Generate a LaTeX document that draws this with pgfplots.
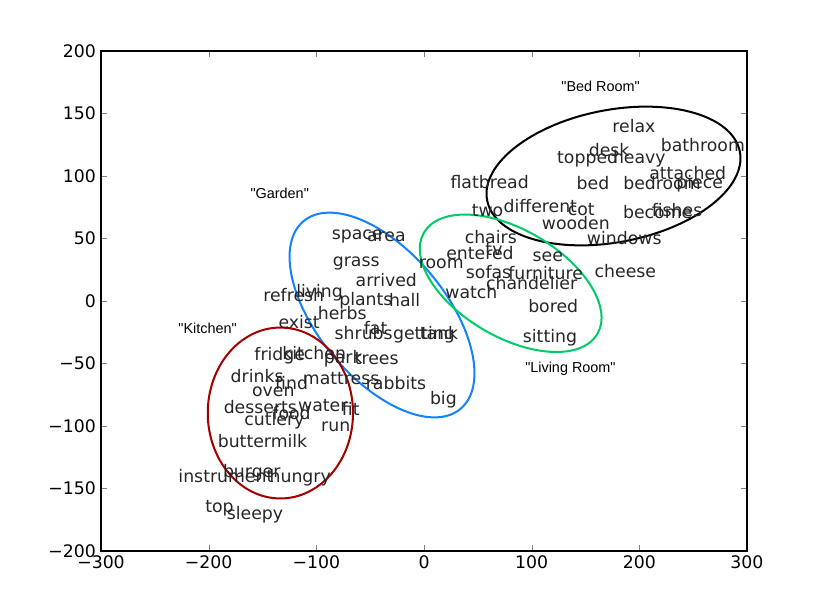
\documentclass[border=0pt]{standalone}
\usepackage{pgfplots}
\pgfplotsset{compat=1.18}
\usepackage{fontspec}
\setmainfont{DejaVu Sans}
\newfontfamily\grpfont{Liberation Sans}
\definecolor{ellblue}{RGB}{20,130,255}
\definecolor{ellgreen}{RGB}{0,204,102}
\definecolor{ellred}{RGB}{165,0,0}
\begin{document}
\begin{tikzpicture}
\begin{axis}[
    scale only axis,
    width=448.3pt, height=347pt,
    xmin=-300, xmax=300, ymin=-200, ymax=200,
    xtick={-300,-200,-100,0,100,200,300},
    xticklabels={−300,−200,−100,0,100,200,300},
    ytick={-200,-150,-100,-50,0,50,100,150,200},
    yticklabels={−200,−150,−100,−50,0,50,100,150,200},
    ticklabel style={font=\fontsize{12}{14}\selectfont},
    tick align=inside,
    major tick length=4pt,
    axis line style={line width=0.8pt},
    clip=false,
]
% words
\addplot[only marks, mark=none, point meta=explicit symbolic,
    nodes near coords={\pgfplotspointmeta},
    every node near coord/.append style={anchor=center, inner sep=0pt,
        font=\fontsize{12}{14}\selectfont, text=black!85}]
table[meta=label] {
x y label
195 140 relax
259 125 bathroom
172 121 desk
152 114 topped
200 114 heavy
245 102 attached
157 94 bed
221 94 bedroom
256 94 piece
61 95 flatbread
59 72 two
108 76 different
146 73 cot
141 62 wooden
217 71 become
235 73 fishes
186 50 windows
62 51 chairs
52 38 entered
65 41 tv
16 30 room
115 35 see
60 23 sofas
113 22 furniture
187 24 cheese
100 14 chandelier
44 7 watch
120 -4 bored
117 -29 sitting
-62 52 space
-35 51 area
-63 30 grass
-35 17 arrived
-121 5 refresh
-97 7 living
-54 0 plants
-18 1 hall
-76 -10 herbs
-116 -17 exist
-45 -22 fat
-56 -26 shrubs
0 -27 getting
14 -26 tank
-134 -44 fridge
-102 -42 kitchen
-75 -46 park
-44 -46 trees
-155 -60 drinks
-123 -66 find
-77 -62 mattress
-26 -66 rabbits
-140 -73 oven
-152 -85 desserts
-94 -84 water
-68 -86 fit
-123 -90 food
-139 -96 cutlery
-82 -101 run
18 -79 big
-150 -112 buttermilk
-160 -137 burger
-184 -140 instrument
-115 -141 hungry
-190 -166 top
-157 -171 sleepy
};
% group names
\addplot[only marks, mark=none, point meta=explicit symbolic,
    nodes near coords={\pgfplotspointmeta},
    every node near coord/.append style={anchor=center, inner sep=0pt,
        font=\grpfont\fontsize{10}{12}\selectfont, text=black}]
coordinates {
    (164,172) [{"Bed Room"}]
    (-134,86) [{"Garden"}]
    (-201,-22) [{"Kitchen"}]
    (136,-54) [{"Living Room"}]
};
% cluster ellipses
\draw[black, line width=1.4pt, rotate around={10.9:(axis cs:176,100)}]
    (axis cs:176,100) ellipse [x radius=89.3pt, y radius=45.9pt];
\draw[ellblue, line width=1.4pt, rotate around={-50.1:(axis cs:-39,-11.2)}]
    (axis cs:-39,-11.2) ellipse [x radius=84.9pt, y radius=44.2pt];
\draw[ellgreen, line width=1.4pt, rotate around={-30.3:(axis cs:80.5,14.2)}]
    (axis cs:80.5,14.2) ellipse [x radius=69.7pt, y radius=37.3pt];
\draw[ellred, line width=1.4pt]
    (axis cs:-133.4,-89.6) ellipse [x radius=50.4pt, y radius=59.3pt];
\end{axis}
\path ([shift={(-70.1pt,-41.6pt)}]current axis.south west)
    rectangle ([shift={(57.6pt,35.4pt)}]current axis.north east);
\end{tikzpicture}
\end{document}
